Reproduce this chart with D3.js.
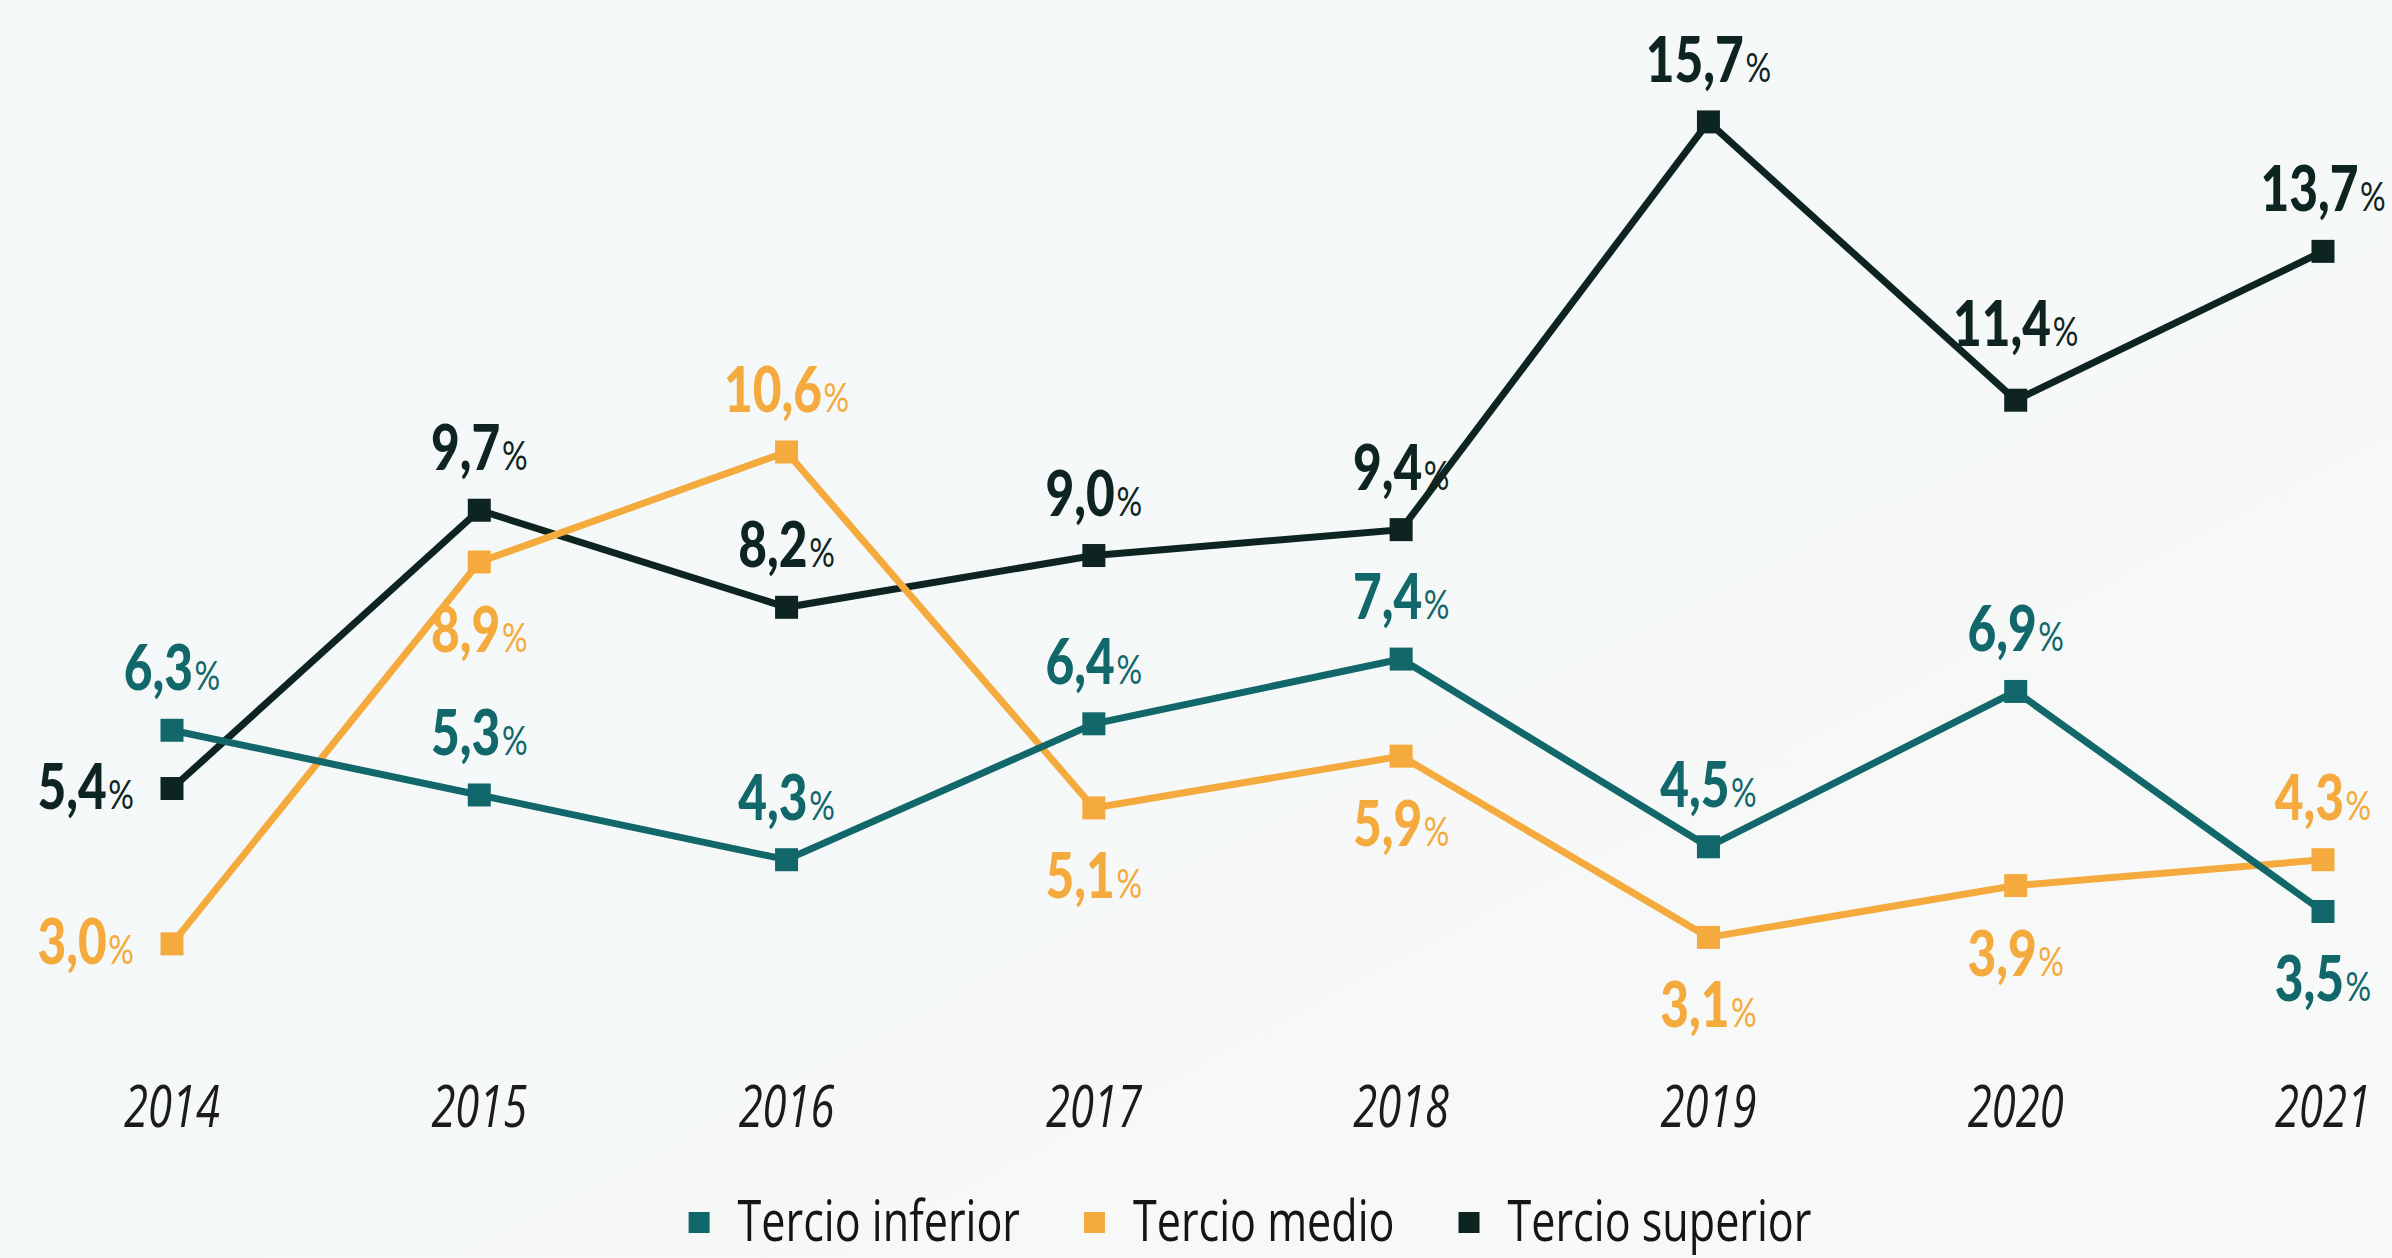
<!DOCTYPE html>
<html>
<head>
<meta charset="utf-8">
<script src="https://cdn.jsdelivr.net/npm/d3@7"></script>
<style>
  html, body { margin: 0; padding: 0; background: #f6f9f9; }
  #canvas { width: 2392px; height: 1258px; }
</style>
</head>
<body>
<div id="canvas" class="canvas"></div>
<script>
// data
var years = ["2014", "2015", "2016", "2017", "2018", "2019", "2020", "2021"];
var inferior = [6.3, 5.3, 4.3, 6.4, 7.4, 4.5, 6.9, 3.5];
var medio = [3.0, 8.9, 10.6, 5.1, 5.9, 3.1, 3.9, 4.3];
var superior = [5.4, 9.7, 8.2, 9.0, 9.4, 15.7, 11.4, 13.7];
var names = ["Tercio inferior", "Tercio medio", "Tercio superior"];

// where each value label sits: a = above, A = higher above, b = below, l = left
var posInferior = ["a", "a", "a", "a", "a", "a", "a", "b"];
var posMedio = ["l", "b", "a", "b", "b", "b", "b", "a"];
var posSuperior = ["l", "a", "a", "a", "a", "a", "A", "a"];

var colors = ["#11676a", "#f4aa3c", "#0e2421"];

var w = document.getElementById("canvas").clientWidth,
    h = document.getElementById("canvas").clientHeight;

var paper = d3.select(".canvas")
  .append("svg")
  .attr("width", w)
  .attr("height", h);

// light background
var grad = paper.append("defs").append("linearGradient")
  .attr("id", "bg")
  .attr("x1", 0).attr("y1", 0).attr("x2", 1).attr("y2", 1);
grad.append("stop").attr("offset", "0%").attr("stop-color", "#f4f8f8");
grad.append("stop").attr("offset", "100%").attr("stop-color", "#f8f9f9");
paper.append("rect")
  .attr("width", w)
  .attr("height", h)
  .attr("fill", "url(#bg)");

var x = d3.scalePoint().domain(years).range([172, 2323]);
var y = d3.scaleLinear().domain([0, 16]).range([1138, 102.5]);

var fmt = d3.format(".1f");

var series = [
  {name: names[0], values: inferior, pos: posInferior, color: colors[0]},
  {name: names[1], values: medio, pos: posMedio, color: colors[1]},
  {name: names[2], values: superior, pos: posSuperior, color: colors[2]}
];

// draw order: superior, medio, inferior on top
var drawOrder = [series[2], series[1], series[0]];

var line = d3.line()
  .x(function(d, i) { return x(years[i]); })
  .y(function(d) { return y(d); });

drawOrder.forEach(function(s) {
  paper.append("path")
    .attr("d", line(s.values))
    .attr("fill", "none")
    .attr("stroke", s.color)
    .attr("stroke-width", 7)
    .attr("stroke-linejoin", "miter");

  paper.selectAll(null)
    .data(s.values)
    .enter()
    .append("rect")
    .attr("x", function(d, i) { return x(years[i]) - 11.5; })
    .attr("y", function(d) { return y(d) - 11.5; })
    .attr("width", 23)
    .attr("height", 23)
    .attr("fill", s.color);
});

// value labels
series.forEach(function(s) {
  s.values.forEach(function(v, i) {
    var px = x(years[i]), py = y(v), anchor = "middle";
    if (s.pos[i] == "a") { py -= 40; }
    else if (s.pos[i] == "A") { py -= 54; }
    else if (s.pos[i] == "b") { py += 90; }
    else { px -= 38; py += 20; anchor = "end"; }

    var t = paper.append("text")
      .attr("transform", "translate(" + px + "," + py + ") scale(0.8,1)")
      .attr("text-anchor", anchor)
      .style("font-family", "Lato, 'Open Sans', sans-serif")
      .style("fill", s.color);
    t.append("tspan")
      .style("font-size", "62px")
      .style("font-weight", 900)
      .text(fmt(v).replace(".", ","));
    t.append("tspan")
      .attr("dx", 2)
      .style("font-size", "40px")
      .style("font-weight", 400)
      .text("%");
  });
});

// year axis labels
paper.selectAll(".year")
  .data(years)
  .enter()
  .append("text")
  .attr("class", "year")
  .attr("transform", function(d) { return "translate(" + x(d) + ",1127) scale(0.75,1)"; })
  .attr("text-anchor", "middle")
  .style("font-family", "'Open Sans', sans-serif")
  .style("font-style", "italic")
  .style("font-weight", 400)
  .style("font-size", "58px")
  .style("fill", "#1b1b1b")
  .text(function(d) { return d; });

// legend
var legend = paper.append("g");
var lx = 0;
series.forEach(function(s, i) {
  legend.append("rect")
    .attr("x", lx)
    .attr("y", 1212)
    .attr("width", 21)
    .attr("height", 21)
    .attr("fill", s.color);
  var t = legend.append("text")
    .attr("transform", "translate(" + (lx + 49) + ",1241) scale(0.77,1)")
    .style("font-family", "'Open Sans', sans-serif")
    .style("font-size", "56px")
    .style("fill", "#151515")
    .text(s.name);
  lx += 49 + t.node().getComputedTextLength() * 0.77 + 64;
});
var lw = lx - 64;
legend.attr("transform", "translate(" + (1250 - lw / 2) + ",0)");
</script>
</body>
</html>
